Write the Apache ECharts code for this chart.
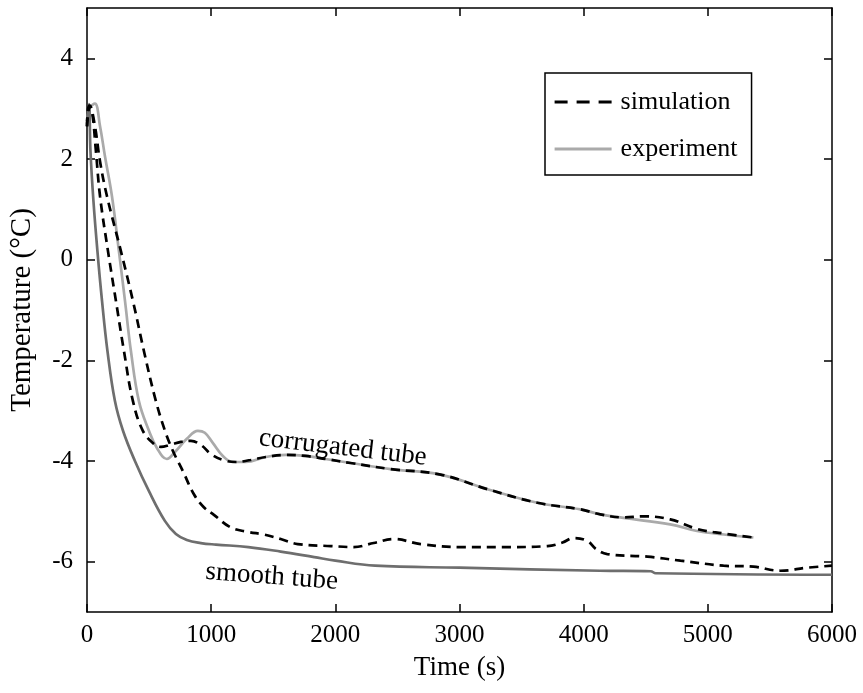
<!DOCTYPE html>
<html>
<head>
<meta charset="utf-8">
<script src="https://cdn.jsdelivr.net/npm/echarts@6/dist/echarts.min.js"></script>
<style>
  html, body { margin: 0; padding: 0; background: #fff; }
  #chart { width: 863px; height: 693px; }
</style>
</head>
<body>
<div id="chart"></div>
<script>
// time (s), temperature (°C)
const corrugatedExp = [
  [0, 2.7], [24, 3.02], [64, 3.1], [105, 2.65], [145, 2.05], [201, 1.26], [257, 0.17],
  [306, -0.82], [354, -1.82], [418, -2.81], [499, -3.4], [563, -3.74], [643, -3.96],
  [716, -3.8], [804, -3.56], [893, -3.4], [949, -3.44], [1013, -3.64], [1094, -3.9],
  [1174, -4.02], [1279, -4.02], [1440, -3.92], [1600, -3.88], [1761, -3.9], [1922, -3.96],
  [2123, -4.04], [2445, -4.16], [2848, -4.27], [3225, -4.56], [3627, -4.83], [3973, -4.96],
  [4134, -5.06], [4320, -5.13], [4697, -5.26], [4914, -5.39], [5130, -5.46], [5367, -5.52]
];
const smoothExp = [
  [0, 2.75], [16, 3.09], [28, 2.15], [52, 1.16], [84, 0.17], [121, -0.82], [165, -1.82],
  [225, -2.81], [290, -3.4], [386, -4.0], [499, -4.6], [627, -5.19], [716, -5.45],
  [804, -5.57], [917, -5.63], [1038, -5.66], [1300, -5.71], [1560, -5.8], [1830, -5.91],
  [2000, -5.98], [2320, -6.08], [3000, -6.12], [4130, -6.18], [4540, -6.19], [4580, -6.23],
  [6000, -6.26]
];
const corrugatedSim = [
  [0, 2.65], [16, 3.06], [40, 2.95], [72, 2.15], [105, 1.26], [169, 0.17], [233, -0.82],
  [298, -1.82], [370, -2.81], [450, -3.4], [539, -3.66], [595, -3.72], [668, -3.68],
  [756, -3.62], [837, -3.6], [917, -3.68], [997, -3.86], [1094, -3.98], [1199, -4.02],
  [1319, -3.98], [1440, -3.92], [1600, -3.88], [1761, -3.9], [1922, -3.96], [2123, -4.04],
  [2445, -4.16], [2848, -4.27], [3225, -4.56], [3627, -4.83], [3973, -4.96], [4134, -5.06],
  [4320, -5.12], [4480, -5.1], [4697, -5.16], [4914, -5.35], [5126, -5.44], [5367, -5.52]
];
const smoothSim = [
  [0, 2.65], [24, 3.06], [64, 2.65], [105, 1.95], [161, 1.26], [273, 0.17], [370, -0.82],
  [467, -1.91], [555, -2.81], [628, -3.4], [692, -3.8], [772, -4.2], [861, -4.66],
  [941, -4.92], [1022, -5.07], [1158, -5.32], [1300, -5.41], [1424, -5.46], [1560, -5.55],
  [1697, -5.65], [1963, -5.69], [2148, -5.71], [2309, -5.63], [2470, -5.55], [2687, -5.65],
  [3008, -5.71], [3400, -5.71], [3708, -5.69], [3830, -5.62], [3917, -5.53], [4030, -5.59],
  [4100, -5.75], [4190, -5.85], [4513, -5.9], [4779, -5.98], [5126, -6.08], [5367, -6.1],
  [5584, -6.18], [5800, -6.12], [6000, -6.08]
];
const yTicks = [-6, -4, -2, 0, 2, 4];
const legendNames = ['simulation', 'experiment'];
const curveLabels = [
  { text: 'corrugated tube', at: [2060, -3.74], angle: -0.117 },
  { text: 'smooth tube', at: [1488, -6.3], angle: -0.075 }
];

const font = 'Liberation Serif, Times New Roman, serif';
const myChart = echarts.init(document.getElementById('chart'), null, { renderer: 'canvas' });

const xBase = {
  type: 'value', min: 0, max: 6000, interval: 1000,
  axisLine: { onZero: false, lineStyle: { color: '#000', width: 1.5 } },
  axisTick: { inside: true, length: 8, lineStyle: { color: '#000', width: 1.5 } },
  splitLine: { show: false }
};
const yBase = {
  type: 'value', min: -7, max: 5,
  axisLine: { onZero: false, lineStyle: { color: '#000', width: 1.5 } },
  axisTick: { inside: true, length: 8, customValues: yTicks, lineStyle: { color: '#000', width: 1.5 } },
  splitLine: { show: false }
};

function lineSeries(name, data, color, dashed) {
  return {
    name: name,
    type: 'line',
    data: data,
    symbol: 'none',
    smooth: 0.4,
    z: dashed ? 3 : 2,
    lineStyle: { color: color, width: 2.7, type: dashed ? [9, 6] : 'solid' },
    itemStyle: { color: color }
  };
}

const option = {
  animation: false,
  grid: { left: 86, right: 31, top: 8, bottom: 81 },
  legend: {
    data: [
      { name: legendNames[0], lineStyle: { type: [13, 9], width: 3.2 } },
      { name: legendNames[1], lineStyle: { width: 3.2 } }
    ],
    orient: 'vertical',
    left: 545,
    top: 73,
    itemWidth: 57,
    itemHeight: 14,
    itemGap: 21,
    padding: [16, 14, 13, 8],
    borderColor: '#000',
    borderWidth: 1.5,
    itemStyle: { opacity: 0 },
    textStyle: { fontFamily: font, fontSize: 26, color: '#000', padding: [0, 0, 0, 4] }
  },
  xAxis: [
    Object.assign({}, xBase, {
      position: 'bottom',
      name: 'Time (s)', nameLocation: 'middle', nameGap: 42,
      nameTextStyle: { fontFamily: font, fontSize: 27, color: '#000' },
      axisLabel: { fontFamily: font, fontSize: 25, color: '#000', margin: 11, formatter: function (v) { return String(v); } }
    }),
    Object.assign({}, xBase, { position: 'top', axisLabel: { show: false } })
  ],
  yAxis: [
    Object.assign({}, yBase, {
      position: 'left',
      name: 'Temperature (°C)', nameLocation: 'middle', nameGap: 50,
      nameTextStyle: { fontFamily: font, fontSize: 29, color: '#000' },
      axisLabel: { customValues: yTicks, fontFamily: font, fontSize: 25, color: '#000', margin: 14 }
    }),
    Object.assign({}, yBase, { position: 'right', axisLabel: { show: false } })
  ],
  series: [
    lineSeries('experiment', corrugatedExp, '#aaaaaa', false),
    lineSeries('experiment', smoothExp, '#6e6e6e', false),
    lineSeries('simulation', corrugatedSim, '#000000', true),
    lineSeries('simulation', smoothSim, '#000000', true)
  ]
};

myChart.setOption(option);

// curve labels placed in data space
myChart.setOption({
  graphic: curveLabels.map(function (c) {
    const p = myChart.convertToPixel({ xAxisIndex: 0, yAxisIndex: 0 }, c.at);
    return {
      type: 'text', x: p[0], y: p[1], rotation: c.angle, z: 10,
      style: { text: c.text, fontFamily: font, fontSize: 27, fill: '#000', align: 'center', verticalAlign: 'middle' }
    };
  })
});
</script>
</body>
</html>
